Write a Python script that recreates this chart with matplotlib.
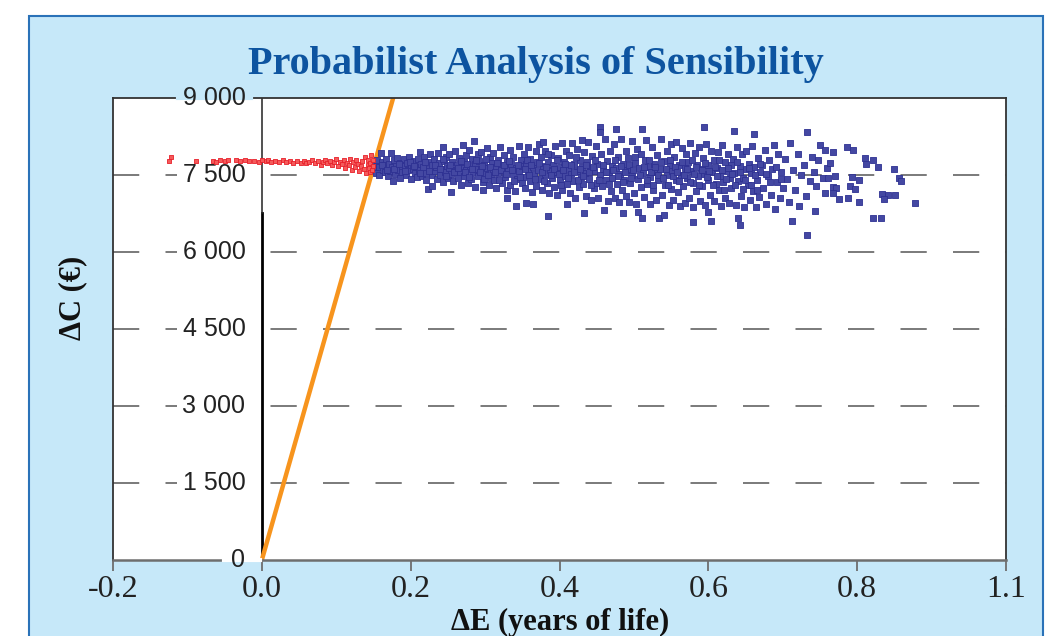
import matplotlib.pyplot as plt
from matplotlib.patches import Rectangle

# Monte Carlo points (delta E in years of life, delta C in euros)
red_pts = [(-0.122, 7850), (-0.125, 7770), (-0.088, 7770), (-0.066, 7780), (-0.061, 7760), (-0.056, 7790),
           (-0.049, 7770), (-0.045, 7790), (-0.035, 7800), (-0.030, 7780), (-0.022, 7790), (-0.017, 7770),
           (-0.010, 7780), (-0.004, 7760), (0.000, 7790), (0.005, 7770), (0.008, 7800), (0.012, 7760),
           (0.018, 7780), (0.023, 7760), (0.028, 7790), (0.033, 7750), (0.038, 7770), (0.042, 7730),
           (0.047, 7770), (0.052, 7740), (0.056, 7780), (0.060, 7730), (0.064, 7760), (0.068, 7800),
           (0.071, 7740), (0.075, 7770), (0.079, 7690), (0.082, 7760), (0.085, 7800), (0.088, 7730),
           (0.091, 7780), (0.094, 7700), (0.097, 7750), (0.100, 7820), (0.102, 7680), (0.105, 7760),
           (0.108, 7720), (0.110, 7790), (0.112, 7640), (0.115, 7740), (0.117, 7690), (0.119, 7820),
           (0.121, 7600), (0.123, 7760), (0.125, 7660), (0.127, 7800), (0.129, 7720), (0.131, 7580),
           (0.133, 7680), (0.135, 7770), (0.137, 7620), (0.139, 7850), (0.140, 7540), (0.142, 7700),
           (0.143, 7790), (0.144, 7640), (0.145, 7560), (0.146, 7740), (0.147, 7880), (0.148, 7600),
           (0.149, 7680), (0.150, 7800)]

blue_band = [
    (0.151, 7620), (0.152, 7720), (0.154, 7540), (0.155, 7800), (0.157, 7660), (0.158, 7500), (0.160, 7930),
    (0.161, 7750), (0.163, 7600), (0.164, 7690), (0.166, 7560), (0.167, 7810), (0.169, 7640), (0.170, 7480),
    (0.171, 7710), (0.172, 7580), (0.174, 7930), (0.175, 7650), (0.176, 7380), (0.177, 7790), (0.179, 7520),
    (0.180, 7680), (0.182, 7840), (0.183, 7600), (0.185, 7450), (0.186, 7740), (0.188, 7630), (0.189, 7550),
    (0.191, 7820), (0.192, 7670), (0.194, 7500), (0.195, 7740), (0.197, 7590), (0.198, 7860), (0.200, 7430),
    (0.201, 7700), (0.203, 7620), (0.204, 7780), (0.206, 7540), (0.207, 7660), (0.209, 7470), (0.210, 7810),
    (0.211, 7600), (0.213, 7950), (0.214, 7720), (0.215, 7480), (0.217, 7660), (0.218, 7850), (0.220, 7540),
    (0.221, 7410), (0.223, 7230), (0.223, 7760), (0.225, 7620), (0.226, 7900), (0.228, 7500), (0.229, 7290),
    (0.229, 7690), (0.231, 7570), (0.232, 7810), (0.234, 7660), (0.235, 7420), (0.237, 7920), (0.238, 7730),
    (0.240, 7500), (0.241, 7620), (0.243, 8050), (0.243, 7360), (0.245, 7770), (0.246, 7550), (0.248, 7860),
    (0.249, 7680), (0.250, 7450), (0.251, 7640), (0.252, 7900), (0.254, 7170), (0.254, 7520), (0.256, 7760),
    (0.257, 7380), (0.259, 7960), (0.260, 7600), (0.262, 7700), (0.263, 7440), (0.265, 7830), (0.266, 7560),
    (0.268, 7310), (0.269, 7670), (0.270, 8080), (0.271, 7750), (0.272, 7490), (0.274, 7880), (0.275, 7600),
    (0.277, 7340), (0.278, 7980), (0.280, 7680), (0.281, 7420), (0.283, 7810), (0.284, 7550), (0.285, 8160),
    (0.286, 7270), (0.287, 7720), (0.289, 7620), (0.290, 7900), (0.291, 7480), (0.292, 7780), (0.294, 7620),
    (0.295, 7950), (0.297, 7210), (0.297, 7360), (0.299, 7700), (0.300, 7540), (0.302, 8020), (0.303, 7640),
    (0.305, 7300), (0.306, 7860), (0.308, 7450), (0.309, 7740), (0.310, 7580), (0.311, 7930), (0.312, 7400),
    (0.314, 7660), (0.315, 7250), (0.317, 7800), (0.318, 7530), (0.320, 8040), (0.321, 7700), (0.323, 7350),
    (0.324, 7600), (0.326, 7880), (0.327, 7470), (0.329, 7200), (0.329, 7760), (0.330, 7050), (0.331, 7620),
    (0.333, 7980), (0.334, 7300), (0.335, 7720), (0.337, 7510), (0.338, 7850), (0.340, 7190), (0.341, 7640),
    (0.342, 6900), (0.343, 7420), (0.345, 8060), (0.346, 7570), (0.348, 7790), (0.349, 7350), (0.350, 7680),
    (0.351, 7470), (0.352, 7900), (0.354, 7250), (0.355, 6950), (0.355, 7710), (0.357, 7580), (0.358, 8040),
    (0.360, 7390), (0.361, 7820), (0.363, 7160), (0.364, 7650), (0.365, 6930), (0.366, 7520), (0.368, 7960),
    (0.369, 7290), (0.370, 7750), (0.371, 7600), (0.373, 8100), (0.374, 7430), (0.375, 7850), (0.377, 7200),
    (0.378, 8140), (0.378, 7680), (0.380, 7510), (0.381, 7960), (0.383, 7340), (0.384, 6700), (0.384, 7760),
    (0.386, 7140), (0.387, 7590), (0.389, 7880), (0.390, 7440), (0.391, 7700), (0.392, 7270), (0.394, 8060),
    (0.395, 7560), (0.397, 7110), (0.398, 7840), (0.400, 7400), (0.401, 7650), (0.403, 8130), (0.404, 7210),
    (0.406, 7750), (0.407, 7480), (0.409, 7960), (0.410, 6930), (0.410, 7330), (0.411, 7610), (0.413, 7890),
    (0.414, 7150), (0.415, 7520), (0.417, 8120), (0.418, 7380), (0.420, 7720), (0.421, 7060), (0.423, 7580),
    (0.424, 8000), (0.426, 7260), (0.427, 7800), (0.429, 7460), (0.430, 7660), (0.430, 8180), (0.431, 7330),
    (0.433, 6760), (0.433, 7940), (0.434, 7540), (0.435, 7100), (0.437, 7760), (0.438, 8150), (0.440, 7420),
    (0.441, 7640), (0.443, 7020), (0.444, 7870), (0.446, 7250), (0.447, 7580), (0.449, 8060), (0.450, 7350),
    (0.451, 7710), (0.452, 7050), (0.454, 7500), (0.455, 8430), (0.455, 8340), (0.456, 7900), (0.457, 7280),
    (0.459, 7620), (0.460, 6820), (0.461, 8200), (0.462, 7400), (0.464, 7780), (0.465, 7000), (0.467, 7550),
    (0.468, 7960), (0.469, 7190), (0.470, 7680), (0.471, 7440), (0.473, 8100), (0.474, 7060), (0.476, 8400),
    (0.476, 7630), (0.477, 7320), (0.479, 7850), (0.480, 6970), (0.481, 7520), (0.483, 8200), (0.484, 7200),
    (0.486, 6760), (0.486, 7720), (0.487, 7400), (0.489, 7960), (0.490, 7100), (0.491, 7600), (0.492, 7830),
    (0.494, 6980), (0.495, 7350), (0.497, 8160), (0.498, 7500), (0.500, 7150), (0.501, 7730), (0.503, 6930),
    (0.504, 8000), (0.505, 6780), (0.506, 7420), (0.507, 7630), (0.509, 7260), (0.510, 7900), (0.511, 8400),
    (0.511, 6660), (0.512, 7540), (0.513, 7070), (0.515, 7800), (0.516, 8180), (0.518, 7330), (0.519, 7650),
    (0.521, 6940), (0.522, 7460), (0.524, 8040), (0.525, 7200), (0.527, 7720), (0.528, 7560), (0.530, 7010),
    (0.531, 7880), (0.533, 7400), (0.534, 6660), (0.535, 7620), (0.537, 8200), (0.538, 7110), (0.540, 7770),
    (0.541, 6720), (0.542, 7300), (0.544, 7960), (0.545, 7500), (0.547, 6910), (0.548, 7680), (0.550, 8100),
    (0.550, 7230), (0.551, 7580), (0.553, 7010), (0.554, 7850), (0.556, 7400), (0.557, 8150), (0.559, 7160),
    (0.560, 7700), (0.562, 6900), (0.563, 7500), (0.565, 8020), (0.566, 7280), (0.568, 7640), (0.569, 6960),
    (0.570, 7900), (0.571, 7440), (0.573, 7760), (0.574, 7050), (0.576, 8120), (0.577, 7580), (0.579, 6880),
    (0.580, 6580), (0.580, 7350), (0.582, 7920), (0.583, 7180), (0.585, 7690), (0.586, 7480), (0.588, 8050),
    (0.589, 6990), (0.590, 7620), (0.591, 7280), (0.593, 7840), (0.594, 8430), (0.594, 7510), (0.596, 6920),
    (0.597, 8100), (0.599, 7400), (0.600, 6780), (0.600, 7700), (0.602, 7120), (0.603, 6600), (0.604, 7960),
    (0.605, 7560), (0.607, 7000), (0.608, 7790), (0.610, 7330), (0.611, 7640), (0.613, 7940), (0.614, 7200),
    (0.616, 7480), (0.617, 6900), (0.619, 8080), (0.620, 7370), (0.622, 7760), (0.623, 7050), (0.625, 7580),
    (0.626, 7900), (0.628, 6960), (0.629, 7450), (0.630, 7700), (0.631, 7250), (0.633, 7820), (0.635, 8360),
    (0.635, 7530), (0.637, 6920), (0.638, 8040), (0.640, 6660), (0.640, 7380), (0.642, 6530), (0.642, 7680),
    (0.644, 7100), (0.645, 7900), (0.647, 7450), (0.648, 6880), (0.650, 7620), (0.651, 7960), (0.653, 7300),
    (0.654, 7720), (0.656, 7020), (0.657, 7540), (0.659, 8060), (0.660, 7180), (0.662, 8300), (0.662, 7650),
    (0.664, 6880), (0.665, 7400), (0.667, 7830), (0.668, 7080), (0.670, 7560), (0.672, 7700), (0.674, 7250),
    (0.676, 7980), (0.678, 6930), (0.680, 7480), (0.682, 7800), (0.684, 7120), (0.686, 7620), (0.688, 8080),
    (0.690, 6840), (0.692, 7360), (0.694, 7900), (0.696, 7050), (0.698, 7560), (0.700, 7250), (0.703, 7820),
    (0.706, 7420), (0.708, 6980), (0.710, 8120), (0.712, 6600), (0.714, 7600), (0.717, 7200), (0.720, 7900),
    (0.722, 6900), (0.725, 7500), (0.728, 7700), (0.731, 7100), (0.733, 6330), (0.733, 8340), (0.736, 7380),
    (0.739, 7850)]

# extra points in the densest middle of the cloud
blue_core = [
    (0.162, 7700), (0.168, 7590), (0.178, 7620), (0.184, 7720), (0.193, 7580), (0.199, 7760), (0.205, 7680),
    (0.212, 7530), (0.219, 7750), (0.224, 7580), (0.233, 7700), (0.239, 7610), (0.244, 7820), (0.247, 7480),
    (0.253, 7700), (0.258, 7550), (0.264, 7640), (0.267, 7780), (0.273, 7560), (0.276, 7720), (0.279, 7460),
    (0.282, 7620), (0.288, 7800), (0.293, 7550), (0.296, 7680), (0.298, 7420), (0.301, 7820), (0.304, 7500),
    (0.307, 7660), (0.313, 7560), (0.316, 7740), (0.319, 7400), (0.322, 7600), (0.325, 7700), (0.328, 7520),
    (0.332, 7780), (0.336, 7600), (0.339, 7380), (0.344, 7700), (0.347, 7460), (0.353, 7620), (0.356, 7800),
    (0.359, 7500), (0.362, 7700), (0.367, 7420), (0.372, 7740), (0.376, 7550), (0.379, 7380), (0.382, 7650),
    (0.385, 7900), (0.388, 7500), (0.393, 7620), (0.396, 7800), (0.399, 7520), (0.402, 7300), (0.405, 7600),
    (0.408, 7720), (0.412, 7440), (0.416, 7700), (0.419, 7560), (0.422, 7850), (0.425, 7400), (0.428, 7620),
    (0.432, 7480), (0.436, 7700), (0.439, 7560), (0.442, 7300), (0.445, 7650), (0.448, 7800), (0.453, 7400),
    (0.458, 7700), (0.463, 7560), (0.466, 7320), (0.472, 7600), (0.475, 7800), (0.478, 7480), (0.482, 7680),
    (0.485, 7360), (0.488, 7560), (0.493, 7700), (0.496, 7440), (0.499, 7600), (0.502, 7850), (0.508, 7500),
    (0.514, 7660), (0.517, 7400), (0.520, 7800), (0.523, 7560), (0.526, 7300), (0.529, 7660), (0.532, 7500),
    (0.536, 7760), (0.539, 7440), (0.543, 7620), (0.546, 7300), (0.549, 7800), (0.552, 7480), (0.555, 7660),
    (0.558, 7560), (0.561, 7380), (0.564, 7760), (0.567, 7500), (0.572, 7620), (0.575, 7360), (0.578, 7800),
    (0.581, 7520), (0.584, 7660), (0.587, 7300), (0.592, 7600), (0.595, 7740), (0.598, 7460), (0.601, 7580),
    (0.606, 7300), (0.609, 7660), (0.612, 7480), (0.615, 7800), (0.618, 7600), (0.621, 7200), (0.624, 7420),
    (0.627, 7640), (0.632, 7520), (0.636, 7300), (0.639, 7760), (0.643, 7560), (0.646, 7220), (0.649, 7400),
    (0.655, 7640), (0.658, 7300), (0.663, 7500), (0.666, 7200), (0.669, 7720), (0.677, 7520), (0.683, 7360),
    (0.691, 7650), (0.697, 7420)]

blue_tail = [(0.742, 7560), (0.745, 7280), (0.748, 7790), (0.744, 6800), (0.750, 8080), (0.757, 7990),
             (0.768, 7950), (0.760, 7640), (0.763, 7730), (0.754, 7440), (0.761, 7440), (0.768, 7270),
             (0.772, 7250), (0.757, 7150), (0.768, 7150), (0.775, 7030), (0.788, 7050), (0.786, 8050),
             (0.770, 7480), (0.790, 7290), (0.795, 7990), (0.793, 7460), (0.803, 7400), (0.797, 7230),
             (0.802, 6970), (0.810, 7830), (0.812, 7710), (0.821, 7790), (0.828, 7660), (0.821, 6660),
             (0.832, 6660), (0.834, 7130), (0.841, 7110), (0.836, 7030), (0.849, 7620), (0.856, 7440),
             (0.859, 7380), (0.851, 7110), (0.878, 6950)]

x_ticks = [-0.2, 0.0, 0.2, 0.4, 0.6, 0.8, 1.0]
x_labels = ['-0.2', '0.0', '0.2', '0.4', '0.6', '0.8', '1.1']
y_ticks = [0, 1500, 3000, 4500, 6000, 7500, 9000]
y_labels = ['0', '1 500', '3 000', '4 500', '6 000', '7 500', '9 000']
threshold = 51000  # willingness to pay, euros per year of life

serif = ['Liberation Serif', 'DejaVu Serif']
sans = ['Liberation Sans', 'DejaVu Sans']

W, H = 1054, 636
fig = plt.figure(figsize=(W / 100, H / 100), dpi=100)

# light blue box behind everything
fig.patches.append(Rectangle((29 / W, -0.05), (1043 - 29) / W, 1.05 - 16 / H, transform=fig.transFigure,
                             facecolor='#c6e8f9', edgecolor='#2a72b8', linewidth=1.5, zorder=-5))

ax = fig.add_axes([113 / W, 1 - 560 / H, (1006 - 113) / W, (560 - 98) / H])
ax.set_zorder(2)
ax.set_facecolor('white')
ax.set_xlim(-0.2, 1.0)
ax.set_ylim(0, 9000)

for y in y_ticks[1:-1]:
    ax.axhline(y, color='#7a7a7a', linewidth=1.4, linestyle=(0, (13.5, 13.5)), zorder=1)

# vertical axis at delta E = 0 (heavier in its lower part, as in the original)
ax.plot([0, 0], [0, 6760], color='black', linewidth=2.0, zorder=2)
ax.plot([0, 0], [6760, 9000], color='#222222', linewidth=1.1, zorder=2)
ax.axline((0, 0), slope=threshold, color='#f7941d', linewidth=3.2, zorder=2)

blue_all = blue_band + blue_core + blue_tail
ax.scatter([p[0] for p in blue_all], [p[1] for p in blue_all], s=17, marker='s',
           facecolor='#4448a2', edgecolor='#2e3192', linewidth=0.6, zorder=5)
ax.scatter([p[0] for p in red_pts], [p[1] for p in red_pts], s=12, marker='s',
           facecolor='#f45a5a', edgecolor='#e8202a', linewidth=0.6, zorder=5)

for sp in ['left', 'top', 'right']:
    ax.spines[sp].set_color('#333333')
    ax.spines[sp].set_linewidth(1.3)
ax.spines['bottom'].set_color('#6e6e6e')
ax.spines['bottom'].set_linewidth(1.8)

ax.set_xticks(x_ticks)
ax.set_xticklabels(x_labels, fontsize=23, family=serif, color='#222222')
ax.tick_params(axis='x', direction='out', length=8, width=1.3, color='#6e6e6e', pad=3)
ax.set_yticks([])

# gaps in the top and bottom frame lines where the end labels sit
ax.plot([-0.112, -0.015], [9000, 9000], color='#c6e8f9', linewidth=3, zorder=3.5, clip_on=False)
ax.plot([-0.051, -0.003], [0, 0], color='white', linewidth=3, zorder=3.5, clip_on=False)

for y, lab in zip(y_ticks, y_labels):
    box = None
    if 0 < y < 9000:
        box = dict(facecolor='white', edgecolor='none', pad=4)
    ax.text(-0.022, y, lab, ha='right', va='center', fontsize=18, family=sans, color='#222222',
            bbox=box, zorder=4, clip_on=False)

fig.text(0.508, 1 - 74 / H, 'Probabilist Analysis of Sensibility', ha='center', va='baseline',
         fontsize=29, fontweight='bold', family=serif, color='#0d54a0')
fig.text(73 / W, 1 - 298 / H, 'ΔC (€)', rotation=90, ha='center', va='center',
         fontsize=22, fontweight='bold', family=serif, color='#111111')
fig.text(560 / W, 6 / H, 'ΔE (years of life)', ha='center', va='baseline',
         fontsize=22, fontweight='bold', family=serif, color='#111111')

fig.savefig('out.png', dpi=100)
